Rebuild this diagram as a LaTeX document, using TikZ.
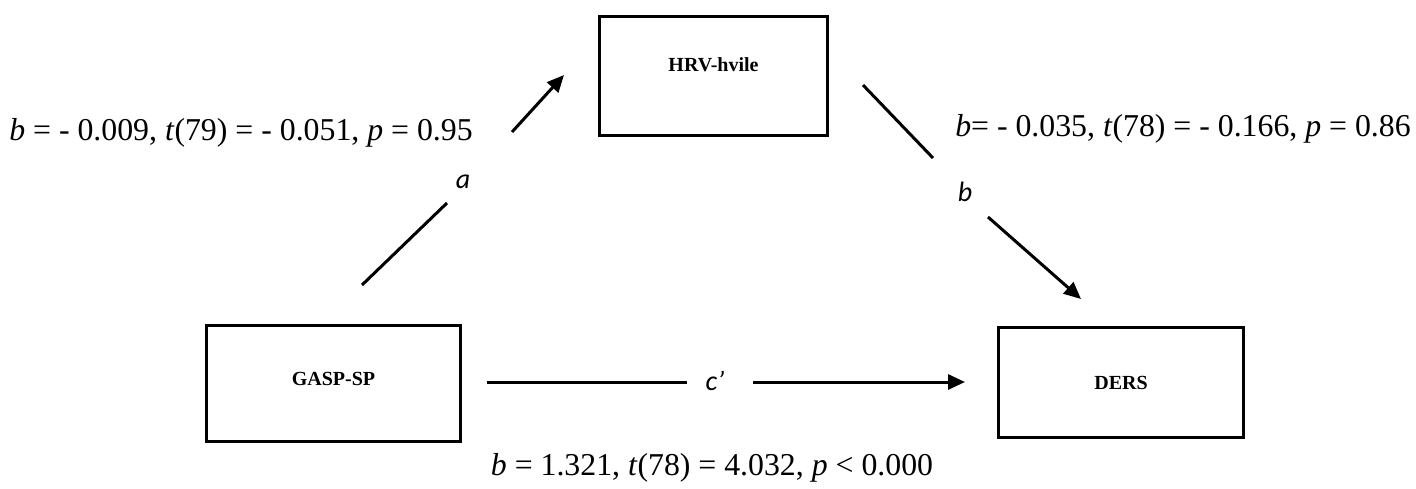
\documentclass[tikz,border=0pt]{standalone}
\usepackage{fontspec}
\setmainfont{Liberation Serif}
\newfontfamily\pathfont{Carlito}
\usetikzlibrary{arrows.meta}

\tikzset{
  varbox/.style  = {draw, line width=3pt, inner sep=0pt, font=\fontsize{20}{22}\selectfont\bfseries},
  stat/.style    = {inner sep=0pt, font=\fontsize{31.8}{36}\selectfont},
  pathlbl/.style = {inner sep=0pt, font=\fontsize{28}{30}\selectfont\pathfont\itshape},
  effect/.style  = {line width=3pt},
  effectarr/.style = {line width=3pt, -{Triangle[length=17pt,width=15pt]}},
}

\begin{document}
\begin{tikzpicture}[x=1pt, y=-1pt]
    \useasboundingbox (0,0) rectangle (1416,488);

    \node[varbox, minimum width=254pt, minimum height=116pt, text depth=9pt]  (gasp) at (333.5,383.5) {GASP-SP};
    \node[varbox, minimum width=228pt, minimum height=119pt, text depth=22pt] (hrv)  at (713.5,76)    {HRV-hvile};
    \node[varbox, minimum width=245pt, minimum height=110pt] (ders) at (1121,382.5)  {DERS};

    \node[stat] (stata) at (241,133)  {\textit{b} = - 0.009, \textit{t}(79) = - 0.051, \textit{p} = 0.95};
    \node[stat] (statb) at (1183,129) {\textit{b}= - 0.035, \textit{t}(78) = - 0.166, \textit{p} = 0.86};
    \node[stat] (statc) at (712,468)  {\textit{b} = 1.321, \textit{t}(78) = 4.032, \textit{p} < 0.000};

    \node[pathlbl] (la) at (463,182) {a};
    \node[pathlbl] (lb) at (965,192) {b};
    \node[pathlbl] (lc) at (715,381) {c’};

    % path a
    \coordinate (a1) at (362,285);
    \coordinate (a2) at (447,203);
    \coordinate (a3) at (512,132);
    \coordinate (a4) at (564,75);
    \draw [effect]    (a1) -- (a2);
    \draw [effectarr] (a3) -- (a4);

    % path b
    \coordinate (b1) at (863,85);
    \coordinate (b2) at (933,158);
    \coordinate (b3) at (988,217);
    \coordinate (b4) at (1081,299);
    \draw [effect]    (b1) -- (b2);
    \draw [effectarr] (b3) -- (b4);

    % path c'
    \coordinate (c1) at (487,382);
    \coordinate (c2) at (687,382);
    \coordinate (c3) at (753,382);
    \coordinate (c4) at (965,382);
    \draw [effect]    (c1) -- (c2);
    \draw [effectarr] (c3) -- (c4);
  \end{tikzpicture}
\end{document}
